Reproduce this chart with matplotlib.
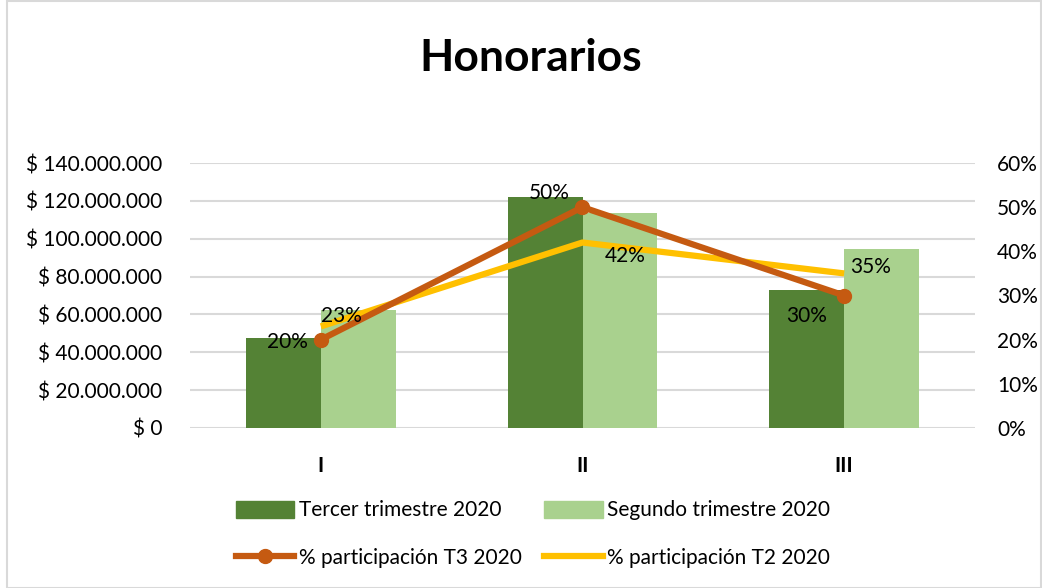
import matplotlib
matplotlib.use("Agg")
import matplotlib.pyplot as plt
from matplotlib.patches import Rectangle
from matplotlib.lines import Line2D
from matplotlib.ticker import FuncFormatter, MultipleLocator
import numpy as np

categories = ["I", "II", "III"]
tercer_2020 = [47500000, 122000000, 73000000]
segundo_2020 = [62300000, 113500000, 94600000]
part_t3 = [0.20, 0.50, 0.30]
part_t2 = [0.23, 0.42, 0.35]
part_t3_labels = ["20%", "50%", "30%"]
part_t2_labels = ["23%", "42%", "35%"]

plt.rcParams['font.family'] = ['Lato', 'DejaVu Sans']

W, H = 1042, 588
fig = plt.figure(figsize=(W / 100, H / 100), dpi=100)
fig.patch.set_facecolor("white")

# outer chart border
fig.add_artist(Rectangle((7 / W, 0), 1 - 7 / W - 1 / W, 1 - 1 / H, transform=fig.transFigure,
                         fill=False, edgecolor="#d9d9d9", lw=1.5))

x0, x1 = 190, 975
y_top, y_bot = 163, 428
ax = fig.add_axes([x0 / W, (H - y_bot) / H, (x1 - x0) / W, (y_bot - y_top) / H])
ax2 = ax.twinx()

x = np.arange(len(categories))
bw = 0.286
dark = "#548235"
light = "#A9D18E"
orange = "#C55A11"
yellow = "#FFC000"
txt = "#000000"
fs = 15

ax.bar(x - bw / 2, tercer_2020, bw, color=dark, zorder=2, label="Tercer trimestre 2020")
ax.bar(x + bw / 2, segundo_2020, bw, color=light, zorder=2, label="Segundo trimestre 2020")
ax.set_xlim(-0.5, len(categories) - 0.5)
ax.set_ylim(0, 140000000)
ax.yaxis.set_major_locator(MultipleLocator(20000000))

def money(v, pos):
    if v == 0:
        return "$ 0"
    return "$ " + f"{int(round(v)):,}".replace(",", ".")

ax.yaxis.set_major_formatter(FuncFormatter(money))
ax.grid(axis="y", color="#d9d9d9", lw=1.5, zorder=0)
ax.set_axisbelow(True)
for s in ax.spines.values():
    s.set_visible(False)
for s in ax2.spines.values():
    s.set_visible(False)
ax.tick_params(axis="y", length=0, pad=20, labelsize=fs, labelcolor=txt)
ax.set_xticks(x)
ax.set_xticklabels(categories, fontweight="bold", fontsize=fs, color=txt)
ax.tick_params(axis="x", length=0, pad=20)

l1, = ax2.plot(x, part_t2, color=yellow, lw=4.5, zorder=3, solid_capstyle="butt")
l0, = ax2.plot(x, part_t3, color=orange, lw=4.5, marker="o", markersize=10, zorder=4,
               solid_capstyle="butt")
ax2.set_ylim(0, 0.6)
ax2.yaxis.set_major_locator(MultipleLocator(0.1))
ax2.yaxis.set_major_formatter(FuncFormatter(lambda v, p: f"{v * 100:.0f}%"))
ax2.tick_params(axis="y", length=0, pad=16, labelsize=fs, labelcolor=txt)

# data label offsets in pixels (dx, dy) relative to points
off_t3 = [(-33, -2), (-33, 14), (-38, -20)]
off_t2 = [(21, 10), (43, -13), (26, 6)]
for i in range(len(categories)):
    ax2.annotate(part_t3_labels[i], (x[i], part_t3[i]),
                 xytext=(off_t3[i][0] * 0.72, off_t3[i][1] * 0.72), textcoords="offset points",
                 ha="center", va="center", fontsize=fs, color=txt, zorder=6)
    ax2.annotate(part_t2_labels[i], (x[i], part_t2[i]),
                 xytext=(off_t2[i][0] * 0.72, off_t2[i][1] * 0.72), textcoords="offset points",
                 ha="center", va="center", fontsize=fs, color=txt, zorder=6)

fig.text(531 / W, 1 - 58 / H, "Honorarios", ha="center", va="center",
         fontsize=32, fontweight="bold", color=txt)

h_dark = Rectangle((0, 0), 1, 1, color=dark)
h_light = Rectangle((0, 0), 1, 1, color=light)
h_t3 = Line2D([], [], color=orange, lw=4.5, marker="o", markersize=10)
h_t2 = Line2D([], [], color=yellow, lw=4.5)
leg = fig.legend([h_dark, h_t3, h_light, h_t2],
                 ["Tercer trimestre 2020", "% participación T3 2020",
                  "Segundo trimestre 2020", "% participación T2 2020"],
                 ncol=2, loc="center", bbox_to_anchor=(533 / W, 1 - 534 / H),
                 frameon=False, fontsize=fs, handlelength=2.8, handleheight=0.85,
                 handletextpad=0.2, columnspacing=1.1, labelspacing=1.3, labelcolor=txt)

fig.savefig("out.png", dpi=100, facecolor="white")
